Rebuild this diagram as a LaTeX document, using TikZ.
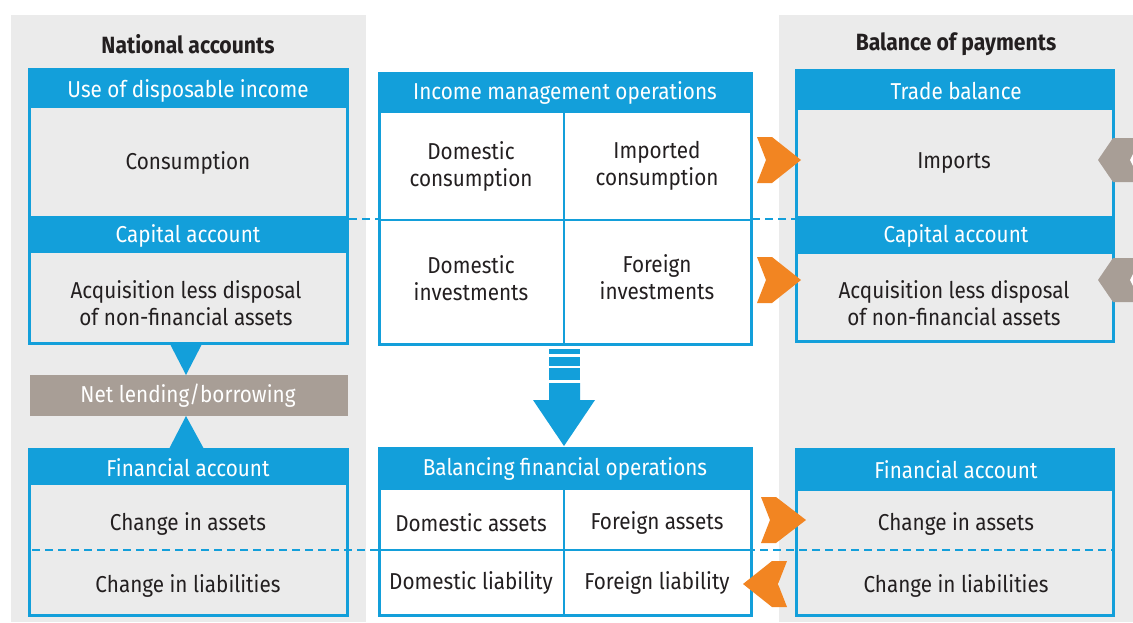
\documentclass[tikz,border=0pt]{standalone}
\usepackage{fontspec}
\setmainfont{Fira Sans}[FakeStretch=0.9]
\usepackage{tikz}
\usetikzlibrary{positioning}
\usepackage{xcolor}
\definecolor{nablue}{RGB}{19,159,218}
\definecolor{naorange}{RGB}{242,133,34}
\definecolor{nataupe}{RGB}{168,158,150}
\definecolor{napanel}{RGB}{235,235,235}
\definecolor{natext}{RGB}{35,31,32}
\tikzstyle{frame} = [draw=nablue, line width=3pt]
\tikzstyle{band} = [fill=nablue]
\tikzstyle{hdr} = [text=white, font=\fontsize{23}{27}\selectfont]
\tikzstyle{cell} = [text=natext, align=center, font=\fontsize{23}{27}\selectfont]
\tikzstyle{title} = [text=natext, font=\fontsize{23.5}{27}\selectfont\bfseries]
\tikzstyle{divider} = [draw=nablue, line width=2.5pt]
\tikzstyle{split} = [draw=nablue, line width=2pt, dash pattern=on 8pt off 5pt]

\begin{document}
\begin{tikzpicture}[x=1pt, y=-1pt]
\useasboundingbox (0,0) rectangle (1133,622);
\fill[white] (0,0) rectangle (1133,622);

% Panels
\fill[napanel] (11,15) rectangle (366,622);
\fill[napanel] (779,15) rectangle (1133,622);
\node[title] (natacc) at (188,44) {National accounts};
\node[title] (bop) at (956,44) {Balance of payments};

% National accounts
\fill[band] (28,68) rectangle (349,108);
\fill[band] (28,216) rectangle (349,253);
\fill[band] (28,448) rectangle (349,485);
\node[hdr] (natuse) at (188,91) {Use of disposable income};
\node[cell] (natcons) at (188,163) {Consumption};
\node[hdr] (natcap) at (188,236) {Capital account};
\node[cell] (natacq) at (186,303) {Acquisition less disposal\\of non-financial assets};
\fill[nataupe] (30,375) rectangle (348,416);
\node[hdr] (netlend) at (188,396) {Net lending/borrowing};
\node[hdr] (natfin) at (188,468) {Financial account};
\node[cell] (natasset) at (188,524) {Change in assets};
\node[cell] (natliab) at (188,586) {Change in liabilities};
\fill[nablue] (170,344) -- (202,344) -- (186,375) -- cycle;
\fill[nablue] (169,449) -- (204,449) -- (186,416) -- cycle;

% Balance of payments
\fill[band] (795,69) rectangle (1115,110);
\fill[band] (795,216) rectangle (1115,254);
\fill[band] (795,448) rectangle (1115,491);
\node[hdr] (bopuse) at (956,91) {Trade balance};
\node[cell] (imports) at (954,163) {Imports};
\node[hdr] (bopcap) at (956,236) {Capital account};
\node[cell] (bopacq) at (954,303) {Acquisition less disposal\\of non-financial assets};
\node[hdr] (bopfin) at (956,470) {Financial account};
\node[cell] (bopasset) at (956,524) {Change in assets};
\node[cell] (bopliab) at (956,586) {Change in liabilities};

% Dashed links
\draw[split] (349,219) -- (795,219);
\draw[split] (32,550) -- (1113,550);

% Income management operations
\fill[white] (378,72) rectangle (753,346);
\fill[band] (378,72) rectangle (753,113);
\draw[divider] (564,113) -- (564,346);
\draw[divider] (378,220) -- (753,220);
\node[hdr] (imohdr) at (565,93) {Income management operations};
\node[cell] (domcons) at (471,166) {Domestic\\consumption};
\node[cell] (impcons) at (657,166) {Imported\\consumption};
\node[cell] (dominv) at (471,278) {Domestic\\investments};
\node[cell] (forinv) at (657,277) {Foreign\\investments};

% Balancing financial operations
\fill[white] (378,447) rectangle (753,617);
\fill[band] (378,447) rectangle (753,490);
\draw[divider] (564,490) -- (564,617);
\draw[divider] (378,550) -- (753,550);
\node[hdr] (bfohdr) at (565,469) {Balancing financial operations};
\node[cell] (domasset) at (471,523) {Domestic assets};
\node[cell] (forasset) at (657,523) {Foreign assets};
\node[cell] (domliab) at (471,583) {Domestic liability};
\node[cell] (forliab) at (657,583) {Foreign liability};

% Frames
\draw[frame] (29.5,69.5) rectangle (347.5,343.5);
\draw[frame] (29.5,449.5) rectangle (347.5,615.5);
\draw[frame] (379.5,73.5) rectangle (751.5,344.5);
\draw[frame] (379.5,448.5) rectangle (751.5,615.5);
\draw[frame] (796.5,70.5) rectangle (1113.5,341.5);
\draw[frame] (796.5,449.5) rectangle (1113.5,615.5);

% Down arrow
\fill[nablue] (549,349) rectangle (580,354);
\fill[nablue] (549,357) rectangle (580,366);
\fill[nablue] (549,368) rectangle (580,380);
\fill[nablue] (549,383) -- (580,383) -- (580,400) -- (595,400) -- (564,446) -- (533,400) -- (549,400) -- cycle;

% Chevrons
\fill[naorange, shift={(801,160)}] (0,0) -- (-29,-23) -- (-44,-23) -- (-35,0) -- (-44,23) -- (-29,23) -- cycle;
\fill[naorange, shift={(801,280)}] (0,0) -- (-29,-23) -- (-44,-23) -- (-35,0) -- (-44,23) -- (-29,23) -- cycle;
\fill[naorange, shift={(806,520)}] (0,0) -- (-30,-23) -- (-45,-23) -- (-36,0) -- (-45,23) -- (-30,23) -- cycle;
\fill[naorange, shift={(743,584)}] (0,0) -- (29,-23) -- (44,-23) -- (35,0) -- (44,23) -- (29,23) -- cycle;
\fill[nataupe, shift={(1098,160)}] (0,0) -- (15,-22) -- (35,-22) -- (35,22) -- (15,22) -- cycle;
\fill[nataupe, shift={(1098,280)}] (0,0) -- (15,-22) -- (35,-22) -- (35,22) -- (15,22) -- cycle;
\fill[white] (1133,154) -- (1130,160) -- (1133,166) -- cycle;
\fill[white] (1133,274) -- (1130,280) -- (1133,286) -- cycle;
\end{tikzpicture}
\end{document}
